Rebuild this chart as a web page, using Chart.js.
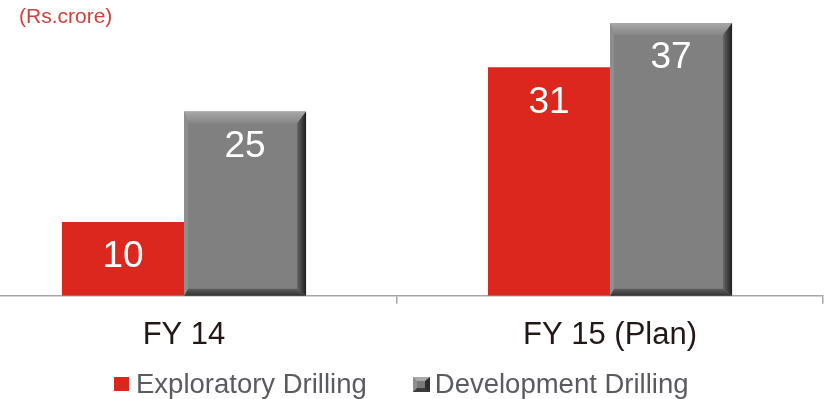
<!DOCTYPE html>
<html>
<head>
<meta charset="utf-8">
<script src="https://cdn.jsdelivr.net/npm/chart.js@4.4.1/dist/chart.umd.min.js"></script>
<style>
    html, body { margin: 0; padding: 0; background: #fff; }
    body { width: 826px; height: 399px; position: relative; overflow: hidden; font-family: "Liberation Sans", Arial, sans-serif; }
    #wrap { position: absolute; left: -29px; top: 0; width: 856px; height: 399px; }
    #unidade { position: absolute; left: 19px; top: 4px; font-size: 21px; color: #d0413b; }
    #legenda { position: absolute; left: 114px; top: 367px; height: 34px; display: flex; align-items: center; font-size: 27.5px; color: #595b5f; }
    .item { display: flex; align-items: center; margin-right: 46px; }
    .caixa { width: 15px; height: 14px; margin-right: 7px; box-sizing: border-box; }
    .cinza { width: 17px; height: 15px; border-style: solid; border-width: 4px 5px 4px 4px; border-color: #a9a9a9 #2e2e2e #3c3c3c #8f8f8f; background: #7a7a7a; margin-right: 5px; }
</style>
</head>
<body>
<div id="wrap"><canvas id="grafico" width="856" height="399"></canvas></div>
<div id="unidade">(Rs.crore)</div>
<div id="legenda"></div>
<script>
const categorias = ['FY 14', 'FY 15 (Plan)'];
const exploratoria = [10, 31];
const desenvolvimento = [25, 37];
const series = ['Exploratory Drilling', 'Development Drilling'];
const cores = ['#dc271e', '#808080'];

// rótulos brancos dentro do topo de cada barra
const rotulos = {
    id: 'rotulos',
    afterDatasetsDraw(chart) {
        const ctx = chart.ctx;
        ctx.save();
        ctx.fillStyle = '#ffffff';
        ctx.font = '37px "Liberation Sans", Arial, sans-serif';
        ctx.textAlign = 'center';
        ctx.textBaseline = 'middle';
        chart.data.datasets.forEach((ds, i) => {
            chart.getDatasetMeta(i).data.forEach((bar, j) => {
                ctx.fillText(String(ds.data[j]), bar.x, bar.y + 35);
            });
        });
        ctx.restore();
    }
};

// efeito chanfrado nas barras cinzas
const chanfro = {
    id: 'chanfro',
    afterDatasetDraw(chart, args) {
        if (args.index !== 1) return;
        const ctx = chart.ctx;
        args.meta.data.forEach(bar => {
            const l = bar.x - bar.width / 2, r = bar.x + bar.width / 2;
            const t = bar.y, b = bar.base;
            const bt = 12, br = 9, bb = 7, bl = 4;
            ctx.save();
            let g = ctx.createLinearGradient(0, t, 0, t + bt);
            g.addColorStop(0, '#a8a8a8');
            g.addColorStop(1, '#868686');
            ctx.fillStyle = g;
            ctx.beginPath();
            ctx.moveTo(l, t); ctx.lineTo(r, t); ctx.lineTo(r - br, t + bt); ctx.lineTo(l + bl, t + bt);
            ctx.closePath(); ctx.fill();

            g = ctx.createLinearGradient(r - br, 0, r, 0);
            g.addColorStop(0, '#666666');
            g.addColorStop(1, '#1e1e1e');
            ctx.fillStyle = g;
            ctx.beginPath();
            ctx.moveTo(r, t); ctx.lineTo(r, b); ctx.lineTo(r - br, b - bb); ctx.lineTo(r - br, t + bt);
            ctx.closePath(); ctx.fill();

            g = ctx.createLinearGradient(0, b - bb, 0, b);
            g.addColorStop(0, '#5e5e5e');
            g.addColorStop(1, '#333333');
            ctx.fillStyle = g;
            ctx.beginPath();
            ctx.moveTo(l, b); ctx.lineTo(r, b); ctx.lineTo(r - br, b - bb); ctx.lineTo(l + bl, b - bb);
            ctx.closePath(); ctx.fill();

            ctx.fillStyle = '#8e8e8e';
            ctx.beginPath();
            ctx.moveTo(l, t); ctx.lineTo(l + bl, t + bt); ctx.lineTo(l + bl, b - bb); ctx.lineTo(l, b);
            ctx.closePath(); ctx.fill();
            ctx.restore();
        });
    }
};

new Chart(document.getElementById('grafico'), {
    type: 'bar',
    data: {
        labels: categorias,
        datasets: [
            { label: series[0], data: exploratoria, backgroundColor: cores[0] },
            { label: series[1], data: desenvolvimento, backgroundColor: cores[1] }
        ]
    },
    options: {
        responsive: false,
        animation: false,
        categoryPercentage: 0.573,
        barPercentage: 1,
        layout: { padding: { top: 1, right: 4, left: 0, bottom: 32 } },
        plugins: { legend: { display: false }, tooltip: { enabled: false } },
        scales: {
            x: {
                grid: { offset: true, drawOnChartArea: false, color: '#a6a6a6', lineWidth: 1.5, tickLength: 8 },
                border: { color: '#a6a6a6', width: 1.5 },
                ticks: { color: '#231815', padding: 13, font: { size: 31, family: '"Liberation Sans", Arial, sans-serif' } }
            },
            y: { display: false, min: 0, max: 40 }
        }
    },
    plugins: [chanfro, rotulos]
});

// legenda montada a partir das séries
const legenda = document.getElementById('legenda');
series.forEach((nome, i) => {
    const item = document.createElement('div');
    item.className = 'item';
    const caixa = document.createElement('span');
    caixa.className = 'caixa' + (i === 1 ? ' cinza' : '');
    if (i === 0) caixa.style.background = cores[0];
    item.appendChild(caixa);
    item.appendChild(document.createTextNode(nome));
    legenda.appendChild(item);
});
</script>
</body>
</html>
